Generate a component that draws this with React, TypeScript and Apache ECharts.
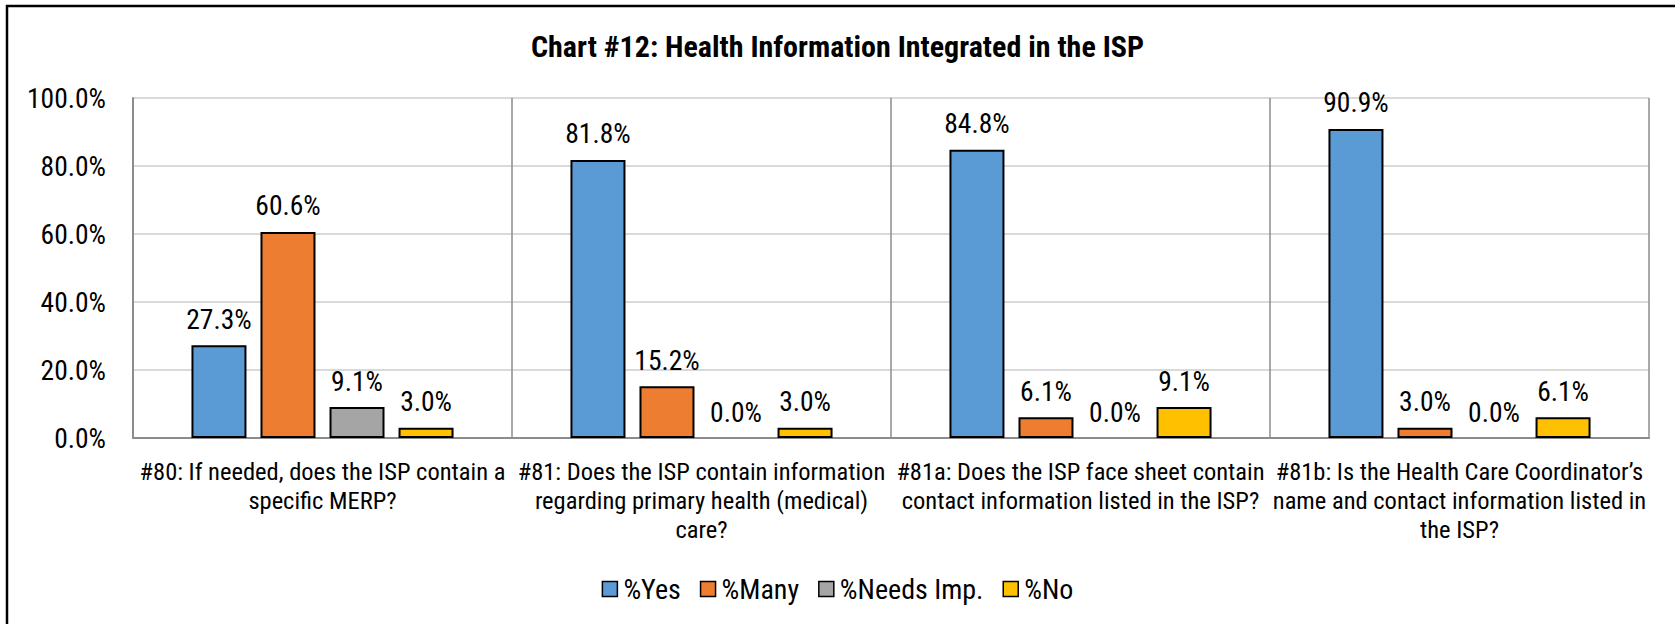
import React, { useEffect, useRef } from "react";
import * as echarts from "echarts";

const categories = [
  "#80: If needed, does the ISP contain a\nspecific MERP?",
  "#81: Does the ISP contain information\nregarding primary health (medical)\ncare?",
  "#81a: Does the ISP face sheet contain\ncontact information listed in the ISP?",
  "#81b: Is the Health Care Coordinator’s\nname and contact information listed in\nthe ISP?",
];
const seriesNames = ["%Yes", "%Many", "%Needs Imp.", "%No"];
const yesValues = [27.3, 81.8, 84.8, 90.9];
const manyValues = [60.6, 15.2, 6.1, 3.0];
const needsImpValues = [9.1, 0.0, 0.0, 0.0];
const noValues = [3.0, 3.0, 9.1, 6.1];
const yTicks = [0, 20, 40, 60, 80, 100];
const colors = ["#5B9BD5", "#ED7D31", "#A5A5A5", "#FFC000"];
const titleText = "Chart #12: Health Information Integrated in the ISP";

const FONT = "'Roboto Condensed', 'Liberation Sans', sans-serif";

export default function App() {
  const ref = useRef<HTMLDivElement>(null);
  useEffect(() => {
    document.body.style.margin = "0";
    const chart = echarts.init(ref.current!, null, { renderer: "svg" });
    const values = [yesValues, manyValues, needsImpValues, noValues];
    chart.setOption({
      animation: false,
      backgroundColor: "#fff",
      textStyle: { fontFamily: FONT },
      title: {
        text: titleText,
        left: "center",
        top: 31,
        padding: 0,
        textStyle: { fontFamily: FONT, fontSize: 30, fontWeight: "bold", color: "#000" },
      },
      graphic: [
        {
          type: "rect",
          shape: { x: 7, y: 6, width: 1750, height: 700 },
          style: { fill: "none", stroke: "#000", lineWidth: 2.5 },
          silent: true,
          z: 100,
        },
      ],
      legend: {
        data: seriesNames,
        left: "center",
        top: 570,
        itemWidth: 15,
        itemHeight: 15,
        itemGap: 19,
        icon: "rect",
        itemStyle: { borderColor: "#000", borderWidth: 1.5 },
        textStyle: { fontFamily: FONT, fontSize: 28, color: "#000", padding: [0, 0, 0, 1] },
      },
      grid: { left: 133, right: 26, top: 98, bottom: 186, containLabel: false },
      xAxis: {
        type: "category",
        data: categories,
        axisTick: { show: false },
        axisLine: { show: true, lineStyle: { color: "#8c8c8c", width: 2 } },
        splitLine: { show: true, interval: 0, lineStyle: { color: "#8c8c8c", width: 1.5 } },
        axisLabel: {
          interval: 0,
          fontFamily: FONT,
          fontSize: 24.5,
          lineHeight: 29,
          color: "#000",
          margin: 19,
        },
      },
      yAxis: {
        type: "value",
        min: yTicks[0],
        max: yTicks[yTicks.length - 1],
        interval: 20,
        axisLine: { show: true, lineStyle: { color: "#8c8c8c", width: 2 } },
        axisTick: { show: false },
        splitLine: { show: true, lineStyle: { color: "#d9d9d9", width: 2 } },
        axisLabel: {
          fontFamily: FONT,
          fontSize: 27.5,
          color: "#000",
          margin: 27,
          formatter: (v: number) => v.toFixed(1) + "%",
        },
      },
      series: seriesNames.map((name, i) => ({
        name,
        type: "bar",
        data: values[i].map((v) => (v === 0 ? { value: v, itemStyle: { borderWidth: 0 } } : v)),
        barWidth: 55,
        barGap: "25.5%",
        itemStyle: { color: colors[i], borderColor: "#000", borderWidth: 2 },
        label: {
          show: true,
          position: "top",
          distance: 12,
          fontFamily: FONT,
          fontSize: 27.5,
          color: "#000",
          formatter: (p: any) => Number(p.value).toFixed(1) + "%",
        },
      })),
    });
    return () => chart.dispose();
  }, []);
  return <div ref={ref} style={{ width: 1675, height: 624 }} />;
}
